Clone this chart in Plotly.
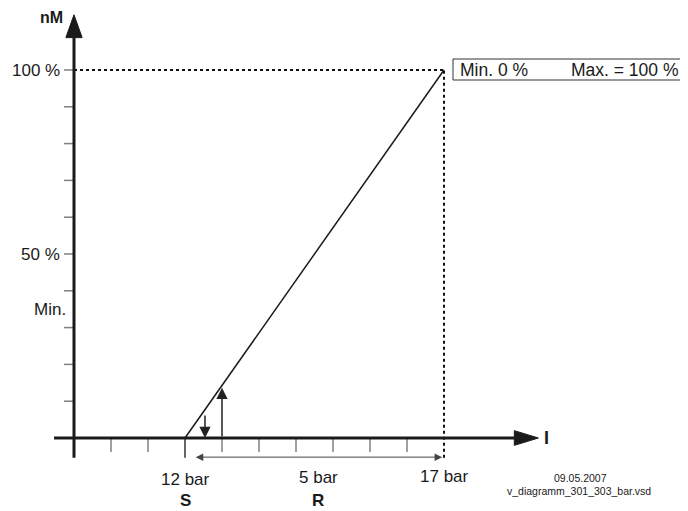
import plotly.graph_objects as go

# --- data ---
pressure_bar = [12, 17]          # S (start) and S+R (end)
output_pct = [0, 100]            # nM at start / end
y_ticks = [1, 2, 3, 4, 5, 6, 7, 8, 9, 10]   # 10 % steps
y_tick_labels = {10: "100 %", 5: "50 %"}
min_label_pos = 3.5
x_ticks = [1, 2, 4, 5, 6, 7, 8, 9]
span_label = "5 bar"
box_left = "Min. 0 %"
box_right = "Max. = 100 %"
stamp_date = "09.05.2007"
stamp_file = "v_diagramm_301_303_bar.vsd"

# grid units: one tick = 37 px, y-axis at u=0, x-axis at v=0
def bar_to_u(b):
    return 3 + (b - pressure_bar[0]) * 7 / (pressure_bar[1] - pressure_bar[0])

def pct_to_v(p):
    return p / 10

u0, u1 = bar_to_u(pressure_bar[0]), bar_to_u(pressure_bar[1])
v0, v1 = pct_to_v(output_pct[0]), pct_to_v(output_pct[1])
slope = (v1 - v0) / (u1 - u0)

OFF = 8   # page body margin
W, H = 688 - OFF, 511 - OFF
AX = "#1a1a1a"
TK = "#808080"
FONT = "Liberation Sans, Arial, sans-serif"

fig = go.Figure()

# characteristic line
fig.add_trace(go.Scatter(
    x=[u0, u1], y=[v0, v1], mode="lines",
    line=dict(color=AX, width=1.5), hoverinfo="skip", showlegend=False
))

shapes = []
# dotted guides
shapes.append(dict(type="line", x0=0, y0=v1, x1=u1, y1=v1,
                   line=dict(color="#111", width=2, dash="dot")))
shapes.append(dict(type="line", x0=u1, y0=-0.54, x1=u1, y1=v1,
                   line=dict(color="#111", width=2, dash="dot")))
# y ticks
for t in y_ticks:
    shapes.append(dict(type="line", x0=-0.27, y0=t, x1=0, y1=t,
                       line=dict(color=TK, width=1.5)))
# x ticks
for t in x_ticks:
    shapes.append(dict(type="line", x0=t, y0=0, x1=t, y1=-0.38,
                       line=dict(color=TK, width=1.5)))
shapes.append(dict(type="line", x0=u0, y0=0, x1=u0, y1=-0.54,
                   line=dict(color="#333", width=1.5)))
# axes
shapes.append(dict(type="line", x0=-0.54, y0=0, x1=11.95, y1=0,
                   line=dict(color=AX, width=3)))
shapes.append(dict(type="line", x0=0, y0=-0.54, x1=0, y1=10.95,
                   line=dict(color=AX, width=3)))
# axis arrowheads
shapes.append(dict(type="path", path="M 11.9,0.2 L 12.55,0 L 11.9,-0.2 Z",
                   fillcolor=AX, line=dict(color=AX, width=1)))
shapes.append(dict(type="path", path="M -0.22,10.88 L 0,11.5 L 0.22,10.88 Z",
                   fillcolor=AX, line=dict(color=AX, width=1)))
# legend box
shapes.append(dict(type="rect", xref="paper", yref="paper",
                   x0=(453 - OFF) / W, x1=(686 - OFF) / W,
                   y0=1 - (80 - OFF) / H, y1=1 - (59 - OFF) / H,
                   line=dict(color="#333", width=1)))

annotations = []
# small arrows on the start of the line
u_down = 3.54
annotations.append(dict(x=u_down, y=0, ax=u_down, ay=slope * (u_down - u0) - 0.12,
                        xref="x", yref="y", axref="x", ayref="y", text="",
                        showarrow=True, arrowhead=2, arrowsize=1.5, arrowwidth=1.5,
                        arrowcolor="#222"))
u_up = 4
annotations.append(dict(x=u_up, y=slope * (u_up - u0) - 0.06, ax=u_up, ay=0,
                        xref="x", yref="y", axref="x", ayref="y", text="",
                        showarrow=True, arrowhead=2, arrowsize=1.5, arrowwidth=1.5,
                        arrowcolor="#222"))
# dimension arrow R
annotations.append(dict(x=u1 - 0.05, y=-0.52, ax=u0 + 0.25, ay=-0.52,
                        xref="x", yref="y", axref="x", ayref="y", text="",
                        showarrow=True, arrowhead=2, arrowside="end+start",
                        arrowsize=1.5, arrowwidth=1, arrowcolor="#444"))

def txt(x, y, s, size=17, bold=False, xanchor="center", xref="x", yref="y"):
    annotations.append(dict(x=x, y=y, xref=xref, yref=yref, text=f"<b>{s}</b>" if bold else s,
                            showarrow=False, xanchor=xanchor, yanchor="middle",
                            font=dict(family=FONT, size=size, color="#1a1a1a")))

for v, lab in y_tick_labels.items():
    txt(-0.33, v, lab, xanchor="right")
txt(-0.16, min_label_pos, "Min.", xanchor="right")
txt(-0.6, 11.42, "nM", bold=True, size=16)
txt(12.78, 0, "I", bold=True, size=18)
txt(u0, -1.14, f"{pressure_bar[0]} bar")
txt(u0, -1.7, "S", bold=True)
txt((u0 + u1) / 2 + 0.1, -1.07, span_label)
txt((u0 + u1) / 2 + 0.1, -1.7, "R", bold=True)
txt(u1, -1.05, f"{pressure_bar[1]} bar")
txt(13.68, -1.1, stamp_date, size=10.5)
txt(13.65, -1.43, stamp_file, size=10.5)
txt((458 - OFF) / W, 1 - (69.5 - OFF) / H, box_left, size=17.5, xanchor="left", xref="paper", yref="paper")
txt((569 - OFF) / W, 1 - (69.5 - OFF) / H, box_right, size=17.5, xanchor="left", xref="paper", yref="paper")

# page pixel 74 -> u=0, page pixel 438 -> v=0 (figure sits OFF px inside page)
fig.update_layout(
    width=W, height=H,
    margin=dict(l=0, r=0, t=0, b=0),
    paper_bgcolor="white", plot_bgcolor="white",
    xaxis=dict(range=[-(74 - OFF) / 37, (W - 74 + OFF) / 37], visible=False, fixedrange=True),
    yaxis=dict(range=[-(H - 438 + OFF) / 36.8, (438 - OFF) / 36.8], visible=False, fixedrange=True),
    shapes=shapes, annotations=annotations, showlegend=False,
)

fig.write_html("out.html")
